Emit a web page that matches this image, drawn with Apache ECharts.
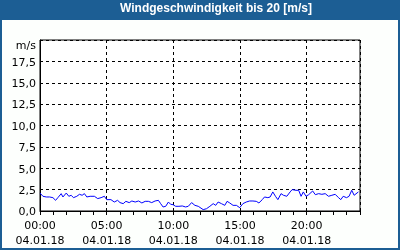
<!DOCTYPE html>
<html><head><meta charset="utf-8">
<script src="https://cdn.jsdelivr.net/npm/echarts@6/dist/echarts.min.js"></script>
<style>html,body{margin:0;padding:0;background:#fff}#c{width:400px;height:250px}</style>
</head><body><div id="c"></div>
<script>
const titleText = 'Windgeschwindigkeit bis 20 [m/s]';
const dateLabel = '04.01.18';
const xTickHours = [0, 5, 10, 15, 20];
const yUnit = 'm/s';
const hours = [0.00,0.22,0.47,0.72,0.97,1.17,1.34,1.59,1.72,1.97,2.16,2.34,2.51,2.76,2.96,3.16,3.33,3.51,3.76,4.08,4.33,4.58,4.83,5.00,5.32,5.57,5.82,6.00,6.24,6.44,6.69,6.89,7.14,7.39,7.64,7.89,8.13,8.38,8.63,8.88,9.05,9.23,9.43,9.63,9.80,9.98,10.17,10.42,10.67,10.92,11.12,11.37,11.62,11.87,
12.00,12.24,12.49,12.74,12.99,13.18,13.36,13.61,13.86,14.03,14.23,14.48,14.73,14.98,15.22,15.47,15.72,15.97,16.22,16.42,16.67,16.84,17.09,17.26,17.46,17.66,17.84,18.08,18.26,18.51,18.76,18.91,19.20,19.40,19.58,19.75,19.95,20.15,20.45,20.65,20.90,21.14,21.39,21.64,21.89,22.14,22.39,22.56,22.74,22.99,23.18,23.38,23.56,23.68,23.88];
const speeds = [2.10,1.72,1.64,1.64,1.56,1.25,1.56,2.03,1.64,2.10,1.72,1.84,1.56,1.72,1.95,1.84,2.03,1.64,1.72,1.72,1.45,1.56,1.72,1.33,1.33,1.05,1.25,0.98,0.86,1.13,0.98,1.17,1.05,1.17,0.94,1.13,1.13,0.98,1.17,1.25,0.86,0.47,0.55,1.05,0.78,0.74,0.55,0.55,0.59,0.47,0.55,0.98,0.66,0.55,
0.35,0.16,0.27,0.55,0.86,0.66,1.05,0.86,0.66,1.13,0.94,0.66,0.66,0.39,0.86,1.05,1.17,1.17,1.13,0.94,1.33,1.64,1.56,1.64,2.23,1.72,1.33,2.03,1.84,1.72,2.23,2.50,2.42,2.42,1.72,2.23,1.72,1.91,2.34,1.91,2.03,1.95,2.03,1.72,1.84,1.95,1.56,1.33,1.72,1.56,1.72,2.42,1.84,1.72,2.23];

const chart = echarts.init(document.getElementById('c'), null, {renderer: 'canvas'});
const pad2 = n => String(n).padStart(2, '0');
const font = 'DejaVu Sans';
chart.setOption({
  backgroundColor: '#fdfffd',
  animation: false,
  graphic: [
    {type: 'rect', shape: {x: 1, y: 1, width: 398, height: 248}, style: {fill: 'none', stroke: '#1c5e94', lineWidth: 2}, z: 1},
    {type: 'rect', shape: {x: 0, y: 0, width: 400, height: 20}, style: {fill: '#1c5e94'}, z: 1}
  ],
  title: {
    text: titleText, left: 120, top: 3, padding: 0, z: 50,
    textStyle: {color: '#fff', fontFamily: 'Liberation Sans', fontWeight: 'bold', fontSize: 12}
  },
  grid: {left: 40, right: 40, top: 40, bottom: 39, show: true, borderColor: '#000', borderWidth: 1, backgroundColor: '#fff'},
  xAxis: {
    type: 'value', min: 0, max: 24, interval: 5,
    axisLine: {show: true, lineStyle: {color: '#000', width: 1}},
    axisTick: {show: true, inside: false, length: 4, lineStyle: {color: '#000'}},
    minorTick: {show: true, splitNumber: 5, length: 4, lineStyle: {color: '#000'}},
    splitLine: {show: true, lineStyle: {color: '#000', type: [3, 3], width: 1}},
    axisLabel: {
      color: '#000', fontFamily: font, fontSize: 11, margin: 8, lineHeight: 15,
      showMaxLabel: false,
      formatter: v => xTickHours.includes(v) ? pad2(v) + ':00\n' + dateLabel : ''
    }
  },
  yAxis: {
    type: 'value', min: 0, max: 20, interval: 2.5,
    axisLine: {show: true, lineStyle: {color: '#000'}},
    axisTick: {show: false},
    splitLine: {show: true, lineStyle: {color: '#000', type: [3, 3], width: 1}},
    axisLabel: {
      color: '#000', fontFamily: font, fontSize: 11, margin: 4,
      formatter: v => v === 20 ? '{u|' + yUnit + '}' : '{n|' + v.toFixed(1).replace('.', ',') + '}',
      rich: {u: {fontFamily: font, fontSize: 11, color: '#000', padding: [12, 0, 0, 0]}, n: {fontFamily: font, fontSize: 11, color: '#000', padding: [3, 0, 0, 0]}}
    }
  },
  series: [{
    type: 'line', data: hours.map((h, i) => [h, speeds[i]]),
    showSymbol: false, smooth: false,
    lineStyle: {color: '#0000ff', width: 1}
  }]
});
</script></body></html>
